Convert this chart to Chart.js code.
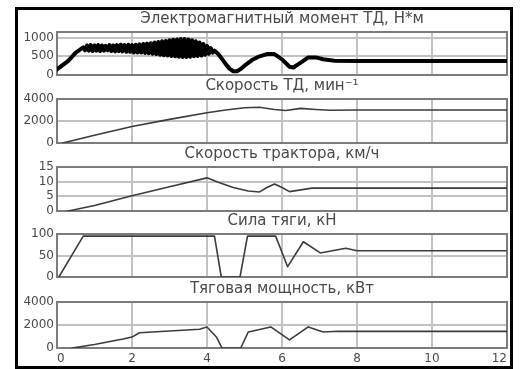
<!DOCTYPE html>
<html>
<head>
<meta charset="utf-8">
<script src="https://cdn.jsdelivr.net/npm/chart.js@4/dist/chart.umd.min.js"></script>
<style>
  html, body { margin: 0; padding: 0; background: #fff; }
  body { width: 522px; height: 369px; position: relative; overflow: hidden; }
  canvas { position: absolute; left: 0; }
  #frame { position: absolute; left: 15px; top: 7px; width: 498px; height: 362px;
           border: 3px solid #000; box-sizing: border-box; pointer-events: none; }
</style>
</head>
<body>
<canvas id="c1"></canvas>
<canvas id="c2"></canvas>
<canvas id="c3"></canvas>
<canvas id="c4"></canvas>
<canvas id="c5"></canvas>
<div id="frame"></div>
<script>
// Time axis, s
const timeTicks = [0, 2, 4, 6, 8, 10, 12];

// Электромагнитный момент ТД, Н*м
const torqueTime = [0, 0.3, 0.5, 0.7,
  0.75, 0.8, 0.85, 0.9, 0.95, 1.0, 1.05, 1.1, 1.15, 1.2, 1.25, 1.3, 1.35, 1.4, 1.45, 1.5,
  1.55, 1.6, 1.65, 1.7, 1.75, 1.8, 1.85, 1.9, 1.95, 2.0, 2.05, 2.1, 2.15, 2.2, 2.25, 2.3,
  2.35, 2.4, 2.45, 2.5, 2.55, 2.6, 2.65, 2.7, 2.75, 2.8, 2.85, 2.9, 2.95, 3.0, 3.05, 3.1,
  3.15, 3.2, 3.25, 3.3, 3.35, 3.4, 3.45, 3.5, 3.55, 3.6, 3.65, 3.7, 3.75, 3.8, 3.85, 3.9,
  3.95, 4.0, 4.05, 4.1, 4.15, 4.2,
  4.3, 4.4, 4.5, 4.6, 4.7, 4.8, 4.9, 5.0, 5.2, 5.4, 5.6, 5.8, 6.0, 6.2, 6.3, 6.5, 6.7,
  6.9, 7.1, 7.4, 8, 9, 10, 11, 12];
const torqueValue = [150, 380, 600, 740,
  660, 790, 650, 800, 640, 790, 650, 800, 640, 790, 650, 780, 660, 800, 640, 790,
  630, 800, 640, 810, 630, 800, 620, 810, 620, 800, 600, 810, 600, 820, 600, 830,
  590, 840, 580, 850, 570, 870, 560, 880, 540, 900, 530, 910, 520, 930, 510, 940,
  500, 950, 490, 960, 480, 960, 480, 950, 490, 930, 500, 900, 510, 870, 520, 830,
  540, 780, 570, 720, 600, 650,
  560, 430, 290, 170, 100, 100, 160, 250, 400, 500, 560, 560, 420, 220, 200, 330, 470,
  470, 420, 380, 375, 375, 375, 375, 375];
const torqueTicks = [0, 500, 1000];

// Скорость ТД, мин^-1
const motorTime  = [0.15, 1, 2, 3, 4, 4.5, 5, 5.4, 5.8, 6.1, 6.5, 6.9, 7.3, 8, 12];
const motorSpeed = [0, 700, 1500, 2150, 2750, 3000, 3200, 3250, 3050, 2950, 3150, 3050, 2980, 3000, 3000];
const motorTicks = [0, 2000, 4000];

// Скорость трактора, км/ч
const tractorTime  = [0.3, 1, 2, 3, 4, 4.3, 4.7, 5.1, 5.4, 5.6, 5.8, 6.0, 6.2, 6.5, 6.8, 12];
const tractorSpeed = [0, 1.9, 5.2, 8.3, 11.3, 9.8, 8.0, 6.8, 6.5, 8.0, 9.2, 8.0, 6.6, 7.2, 7.8, 7.8];
const tractorTicks = [0, 5, 10, 15];

// Сила тяги, кН
const forceTime  = [0.05, 0.7, 4.2, 4.38, 4.88, 5.08, 5.83, 6.15, 6.57, 7.02, 7.34, 7.7, 8.0, 12];
const forceValue = [0, 95, 95, 0, 0, 95, 95, 24, 82, 56, 61, 67, 61, 61];
const forceTicks = [0, 50, 100];

// Тяговая мощность, кВт
const powerTime  = [0.4, 1.0, 1.76, 2.0, 2.2, 3.0, 3.8, 4.0, 4.25, 4.4, 4.9, 5.1, 5.7, 6.2, 6.7, 7.1, 7.5, 12];
const powerValue = [0, 300, 780, 950, 1330, 1480, 1630, 1830, 960, 0, 0, 1390, 1830, 700, 1830, 1390, 1450, 1450];
const powerTicks = [0, 2000, 4000];

const pairs = (xs, ys) => xs.map((x, i) => ({ x: x, y: ys[i] }));

// strokes the full axes box around the plot area
const boxPlugin = {
  id: 'axesBox',
  beforeDatasetsDraw(chart) {
    const a = chart.chartArea, ctx = chart.ctx;
    ctx.save();
    ctx.strokeStyle = '#7c7c7c';
    ctx.lineWidth = 2;
    ctx.strokeRect(a.left, a.top, a.right - a.left, a.bottom - a.top);
    ctx.restore();
  }
};

const FONT = "'DejaVu Sans', 'Liberation Sans', sans-serif";
const TEXT = '#4a4a4a';
const GRID = '#c2c2c2';

function makePanel(id, plotTop, plotH, withTimeLabels, title, xs, ys, yMax, yTicks, lineColor, lineWidth) {
  const titleH = 22, axisH = withTimeLabels ? 19 : 0, padB = withTimeLabels ? 0 : 8;
  const cv = document.getElementById(id);
  cv.width = 522;
  cv.height = titleH + plotH + axisH + padB;
  cv.style.top = (plotTop - titleH) + 'px';
  new Chart(cv, {
    type: 'line',
    data: { datasets: [{
      data: pairs(xs, ys),
      borderColor: lineColor,
      borderWidth: lineWidth,
      borderJoinStyle: 'round',
      borderCapStyle: 'round',
      pointRadius: 0,
      tension: 0,
      fill: false
    }]},
    options: {
      responsive: false,
      animation: false,
      events: [],
      layout: { autoPadding: false, padding: { top: 0, right: 15, bottom: padB, left: 0 } },
      plugins: {
        legend: { display: false },
        tooltip: { enabled: false },
        title: {
          display: true, text: title, fullSize: false,
          color: TEXT, padding: { top: 0, bottom: 4 },
          font: { family: FONT, size: 15, weight: 'normal', lineHeight: '18px' }
        }
      },
      scales: {
        x: {
          type: 'linear', min: 0, max: 12,
          afterBuildTicks: s => { s.ticks = timeTicks.map(v => ({ value: v })); },
          afterFit: s => { s.height = axisH; s.paddingLeft = 0; s.paddingRight = 0; },
          grid: { color: GRID, lineWidth: 2, drawTicks: false },
          border: { display: false },
          ticks: { display: withTimeLabels, autoSkip: false, maxRotation: 0, align: 'inner',
                   padding: 4, color: TEXT,
                   font: { family: FONT, size: 12 }, callback: v => String(v) }
        },
        y: {
          type: 'linear', min: 0, max: yMax,
          afterBuildTicks: s => { s.ticks = yTicks.map(v => ({ value: v })); },
          afterFit: s => { s.width = 57; s.paddingTop = 0; s.paddingBottom = 0; },
          grid: { color: GRID, lineWidth: 2, drawTicks: false },
          border: { display: false },
          ticks: { autoSkip: false, padding: 3, color: TEXT, font: { family: FONT, size: 12 },
                   callback: v => String(v) }
        }
      }
    },
    plugins: [boxPlugin]
  });
}

makePanel('c1', 32, 43, false, 'Электромагнитный момент ТД, Н*м',
  torqueTime, torqueValue, 1150, torqueTicks, '#000', 4);
makePanel('c2', 99, 44, false, 'Скорость ТД, мин⁻¹',
  motorTime, motorSpeed, 4000, motorTicks, '#3c3c3c', 1.6);
makePanel('c3', 167, 44, false, 'Скорость трактора, км/ч',
  tractorTime, tractorSpeed, 15, tractorTicks, '#3c3c3c', 1.6);
makePanel('c4', 234, 43, false, 'Сила тяги, кН',
  forceTime, forceValue, 100, forceTicks, '#3c3c3c', 1.6);
makePanel('c5', 302, 46, true, 'Тяговая мощность, кВт',
  powerTime, powerValue, 4000, powerTicks, '#3c3c3c', 1.6);
</script>
</body>
</html>
